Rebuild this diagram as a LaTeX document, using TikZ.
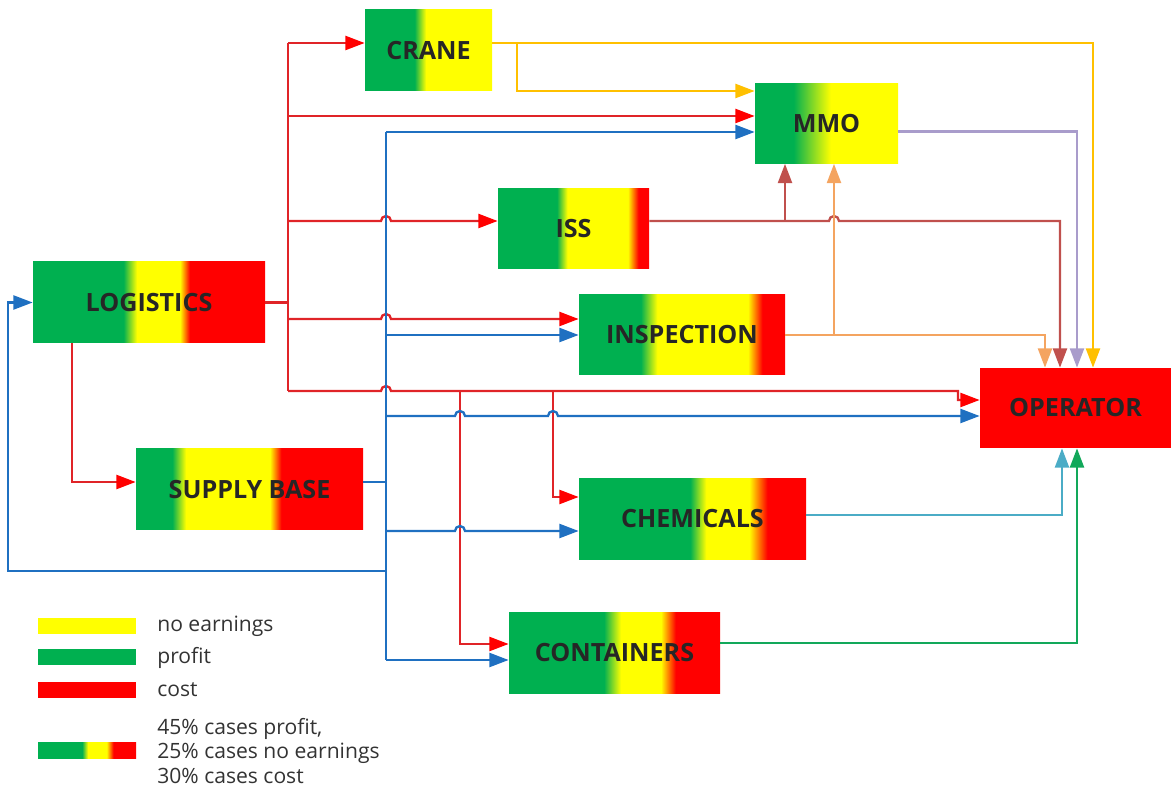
\documentclass[tikz,border=0pt]{standalone}
\usepackage{fontspec}
\setmainfont{Open Sans}
\usetikzlibrary{arrows.meta, calc, positioning}

\definecolor{pgreen}{HTML}{00B050}
\definecolor{pyellow}{HTML}{FFFF00}
\definecolor{pred}{HTML}{FF0000}
\definecolor{linered}{HTML}{E02428}
\definecolor{lineblue}{HTML}{1F70C1}
\definecolor{linegold}{HTML}{FFC000}
\definecolor{linelilac}{HTML}{A99CCB}
\definecolor{linebrown}{HTML}{C0504D}
\definecolor{lineorange}{HTML}{F4A460}
\definecolor{linesteel}{HTML}{4BACC6}
\definecolor{linegreen}{HTML}{12A85A}

% green -> yellow -> red bands (stops between 25bp and 75bp)
\newcommand{\gyrshade}[5]{\pgfdeclarehorizontalshading{#1}{100bp}{color(0bp)=(pgreen); color(#2bp)=(pgreen); color(#3bp)=(pyellow); color(#4bp)=(pyellow); color(#5bp)=(pred); color(100bp)=(pred)}}
\newcommand{\gyshade}[3]{\pgfdeclarehorizontalshading{#1}{100bp}{color(0bp)=(pgreen); color(#2bp)=(pgreen); color(#3bp)=(pyellow); color(100bp)=(pyellow)}}
\gyrshade{logshade}{44.5}{47.4}{56.7}{58.8}
\gyrshade{supshade}{33}{36}{54.5}{57}
\gyrshade{issshade}{44.5}{48}{68}{71.5}
\gyrshade{inspshade}{40}{44}{66}{69.5}
\gyrshade{chemshade}{49.5}{53}{62.5}{66.5}
\gyrshade{contshade}{47.5}{51.5}{61}{64.5}
\gyrshade{mixshade}{47.5}{50.5}{60}{63.5}
\gyshade{craneshade}{44.5}{49}
\gyshade{mmoshade}{38.5}{51.5}

\begin{document}
\begin{tikzpicture}[x=0.02cm, y=-0.02cm, >={Triangle[length=11pt,width=8pt]},
	unit/.style n args={2}{minimum width=#1*0.02cm, minimum height=#2*0.02cm, inner sep=0pt, text=black!85, font=\fontsize{14.3}{16}\selectfont\bfseries},
	legbar/.style={minimum width=98*0.02cm, minimum height=16*0.02cm, inner sep=0pt},
	legtext/.style={anchor=west, inner sep=0pt, text=black!80, align=left, font=\fontsize{12}{14.2}\selectfont},
	redline/.style={draw=linered, line width=1.3pt, -{Triangle[length=11pt,width=8pt,color=pred]}},
	redtrunk/.style={draw=linered, line width=1.3pt},
	blueline/.style={draw=lineblue, line width=1.3pt}]
		\useasboundingbox (0,0) rectangle (1171,787);

		\node[unit={232}{81}, shading=logshade] (logistics) at (149,302.5) {LOGISTICS};
		\node[unit={227}{81}, shading=supshade] (supply) at (249.5,489.5) {SUPPLY BASE};
		\node[unit={127}{81}, shading=craneshade] (crane) at (428.5,50.5) {CRANE};
		\node[unit={143}{80}, shading=mmoshade] (mmo) at (826.5,123.5) {MMO};
		\node[unit={151}{80}, shading=issshade] (iss) at (573.5,229) {ISS};
		\node[unit={206}{80}, shading=inspshade] (insp) at (682,335) {INSPECTION};
		\node[unit={191}{80}, fill=pred] (operator) at (1075.5,408) {OPERATOR};
		\node[unit={227}{80}, shading=chemshade] (chem) at (692.5,519) {CHEMICALS};
		\node[unit={211}{81}, shading=contshade] (cont) at (614.5,652.5) {CONTAINERS};

		\coordinate (r1) at (288,43); \coordinate (r2) at (288,116); \coordinate (r3) at (288,221); \coordinate (r4) at (288,319); \coordinate (r5) at (288,391);
		\coordinate (r6) at (460,391); \coordinate (r7) at (553,391);
		\draw[redtrunk] (logistics.east) -- (logistics.east -| r1); \draw[redtrunk] (r1) -- (r5);
		\draw[redline] (r1) -- (r1 -| crane.west);
		\draw[redline] (r2) -- (r2 -| mmo.west);
		\draw[redline] (r3) -- (381,221) arc[start angle=180, end angle=0, radius=0.1cm] -- (r3 -| iss.west);
		\draw[redline] (r4) -- (381,319) arc[start angle=180, end angle=0, radius=0.1cm] -- (r4 -| insp.west);
		\draw[redline] (r5) -- (381,391) arc[start angle=180, end angle=0, radius=0.1cm] -- (958,391) |- ($(operator.west)+(0,-8)$);
		\draw[redline] (r6) |- ($(cont.west)+(0,-8.5)$);
		\draw[redline] (r7) |- ($(chem.west)+(0,-22)$);
		\draw[redline] ($(logistics.south west)+(39,0)$) |- ($(supply.west)+(0,-7.5)$);

		\coordinate (b1) at (386,132); \coordinate (b2) at (386,660); \coordinate (b3) at (386,335); \coordinate (b4) at (386,416); \coordinate (b5) at (386,531); \coordinate (b6) at (386,571);
		\draw[blueline] ($(supply.east)+(0,-7.5)$) -- ($(supply.east -| b1)+(0,-7.5)$); \draw[blueline] (b1) -- (b2);
		\draw[blueline,->] (b1) -- (b1 -| mmo.west);
		\draw[blueline,->] (b3) -- (insp.west);
		\draw[blueline,->] (b4) -- (455,416) arc[start angle=180, end angle=0, radius=0.1cm] -- (548,416) arc[start angle=180, end angle=0, radius=0.1cm] -- ($(operator.west)+(0,8)$);
		\draw[blueline,->] (b5) -- (455,531) arc[start angle=180, end angle=0, radius=0.1cm] -- ($(chem.west)+(0,12)$);
		\draw[blueline,->] (b2) -- (b2 -| cont.west);
		\draw[blueline,->] (b6) -| ($(logistics.west)+(-25,0)$) -- (logistics.west);

		\coordinate (g1) at (517,43); \coordinate (br1) at (785,221); \coordinate (or1) at (834,335);
		\draw[linegold, line width=1.3pt, ->] ($(crane.east)+(0,-7.5)$) -| ($(operator.north)+(17.5,0)$);
		\draw[linegold, line width=1.3pt, ->] (g1) |- ($(mmo.west)+(0,-32.5)$);
		\draw[linelilac, line width=1.3pt, ->] ($(mmo.east)+(0,8)$) -| ($(operator.north)+(1.5,0)$);
		\draw[linebrown, line width=1.3pt, ->] ($(iss.east)+(0,-8)$) -- (829,221) arc[start angle=180, end angle=0, radius=0.1cm] -| ($(operator.north)+(-15.5,0)$);
		\draw[linebrown, line width=1.3pt, ->] (br1) -- (br1 |- mmo.south);
		\draw[lineorange, line width=1.3pt, ->] (insp.east) -| ($(operator.north)+(-30.5,0)$);
		\draw[lineorange, line width=1.3pt, ->] (or1) -- (or1 |- mmo.south);
		\draw[linesteel, line width=1.3pt, ->] ($(chem.east)+(0,-4)$) -| ($(operator.south)+(-13.5,0)$);
		\draw[linegreen, line width=1.3pt, ->] ($(cont.east)+(0,-9.5)$) -| ($(operator.south)+(1.5,0)$);

		\node[legbar, fill=pyellow] (lyellow) at (87,625.5) {}; \node[legtext] (tyellow) at (157,626) {no earnings};
		\node[legbar, fill=pgreen] (lgreen) at (87,657) {}; \node[legtext] (tgreen) at (157,658) {profit};
		\node[legbar, fill=pred] (lred) at (87,690) {}; \node[legtext] (tred) at (157,690) {cost};
		\node[legbar, shading=mixshade] (lmix) at (87,750.5) {}; \node[legtext] (tmix) at (157,751) {45\% cases profit,\\25\% cases no earnings\\30\% cases cost};
\end{tikzpicture}
\end{document}
